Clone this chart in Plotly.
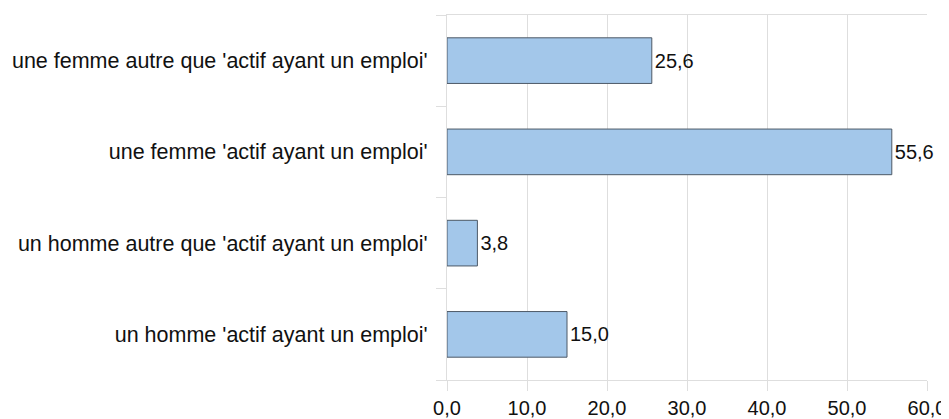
import plotly.graph_objects as go

# categories bottom -> top (plotly draws first category at the bottom)
categories = [
    "un homme 'actif ayant un emploi'",
    "un homme autre que 'actif ayant un emploi'",
    "une femme 'actif ayant un emploi'",
    "une femme autre que 'actif ayant un emploi'",
]
values = [15.0, 3.8, 55.6, 25.6]
tick_vals = [0, 10, 20, 30, 40, 50, 60]
tick_text = ["0,0", "10,0", "20,0", "30,0", "40,0", "50,0", "60,0"]

labels = [f"{v:.1f}".replace(".", ",") for v in values]

fig = go.Figure()
fig.add_trace(go.Bar(
    y=categories,
    x=values,
    orientation="h",
    marker=dict(color="#a3c7ea", line=dict(color="#4d5966", width=1)),
    text=labels,
    textposition="outside",
    constraintext="none",
    textfont=dict(size=20, color="#111111", family="Liberation Sans"),
    cliponaxis=False,
))

# page body has an 8px margin, so the figure is sized/offset to compensate
fig.update_layout(
    width=941, height=411,
    margin=dict(l=439, r=22, t=7, b=39),
    plot_bgcolor="white",
    paper_bgcolor="white",
    bargap=0.5,
    showlegend=False,
    font=dict(family="Liberation Sans", color="#111111"),
    xaxis=dict(
        range=[0, 60],
        tickvals=tick_vals,
        ticktext=tick_text,
        automargin=False,
        showgrid=True, gridcolor="#dedede", gridwidth=1,
        showline=True, linecolor="#dedede", linewidth=1, mirror=True,
        ticks="outside", ticklen=10, tickcolor="#dedede",
        tickfont=dict(size=20, color="#111111"),
        zeroline=False,
    ),
    yaxis=dict(
        categoryorder="array", categoryarray=categories,
        automargin=False,
        showgrid=False,
        showline=True, linecolor="#dedede", linewidth=1,
        ticks="outside", ticklen=10, tickcolor="#dedede",
        tickson="boundaries",
        ticklabelstandoff=14,
        tickfont=dict(size=21.5, color="#111111"),
        zeroline=False,
    ),
)

fig.write_html("out.html")
